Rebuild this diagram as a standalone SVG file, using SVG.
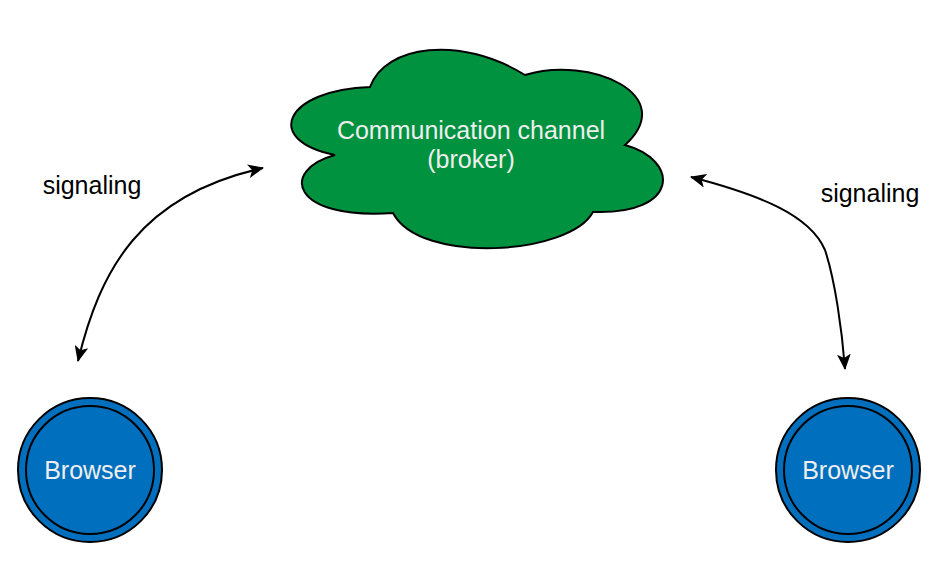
<svg xmlns="http://www.w3.org/2000/svg" width="945" height="581" viewBox="0 0 945 581">
<style>
.lbl{font-family:"Liberation Sans",Arial,sans-serif;font-size:25px;text-anchor:middle}
.light{fill:#EEEEEE}
.dark{fill:#000000}
.node{stroke:#000;stroke-width:2}
.edge{fill:none;stroke:#000;stroke-width:2}
</style>
<defs>
<marker id="ah" viewBox="0 0 16 14" refX="15" refY="7" markerWidth="16" markerHeight="14" markerUnits="userSpaceOnUse" orient="auto-start-reverse">
<path d="M0,0 L16,7 L0,14 L4,7 Z" fill="#000"/>
</marker>
</defs>
<rect width="945" height="581" fill="#fff"/>
<g id="broker">
<path class="node" fill="#00923F" d="M370 87 C385 45,460 35,525 75 C590 55,680 95,625 145 C680 160,680 215,593 212 C570 255,420 265,393 213 C290 220,280 170,335 155 C262 140,285 90,370 87 Z"/>
<text class="lbl light" x="471" y="139">Communication channel</text>
<text class="lbl light" x="471" y="168">(broker)</text>
</g>
<g id="browser-left">
<circle class="node" cx="90" cy="470" r="72" fill="#0070BE"/>
<circle class="node" cx="90" cy="470" r="64" fill="#0070BE"/>
<text class="lbl light" x="90" y="479">Browser</text>
</g>
<g id="browser-right">
<circle class="node" cx="848" cy="470" r="72" fill="#0070BE"/>
<circle class="node" cx="848" cy="470" r="64" fill="#0070BE"/>
<text class="lbl light" x="848" y="479">Browser</text>
</g>
<g id="connectors">
<path class="edge" marker-start="url(#ah)" marker-end="url(#ah)" d="M78 361 C100 270,140 195,263 168"/>
<path class="edge" marker-start="url(#ah)" marker-end="url(#ah)" d="M691 177 C760 195,810 215,825 250 C835 280,842 330,845 369"/>
<text class="lbl dark" x="92" y="194">signaling</text>
<text class="lbl dark" x="870" y="202">signaling</text>
</g>
</svg>
